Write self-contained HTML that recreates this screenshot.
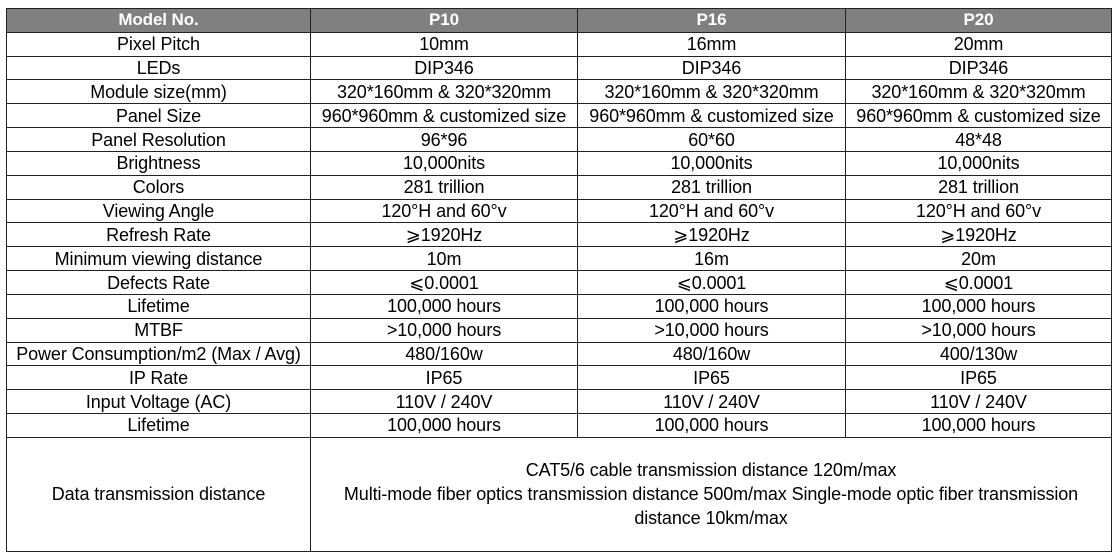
<!DOCTYPE html>
<html><head><meta charset="utf-8"><style>
body{margin:0;background:#fff;width:1117px;height:558px;overflow:hidden;font-family:"Liberation Sans",sans-serif;}
table{position:absolute;left:6px;top:8px;border-collapse:collapse;table-layout:fixed;width:1105px;}
tr{height:23.83px}
td{border:1.5px solid #222;text-align:center;font-size:18px;color:#000;padding:0;line-height:20px;white-space:nowrap;overflow:hidden;letter-spacing:-0.1px}
tr.h td{background:#808080;color:#fff;font-weight:bold;font-size:17px}
tr.big{height:114px}
tr.big td{line-height:24px;white-space:normal}
</style></head><body>
<table>
<col style="width:304px"><col style="width:267px"><col style="width:268px"><col style="width:266px">
<tr class="h"><td>Model No.</td><td>P10</td><td>P16</td><td>P20</td></tr>
<tr><td>Pixel Pitch</td><td>10mm</td><td>16mm</td><td>20mm</td></tr>
<tr><td>LEDs</td><td>DIP346</td><td>DIP346</td><td>DIP346</td></tr>
<tr><td>Module size(mm)</td><td>320*160mm &amp; 320*320mm</td><td>320*160mm &amp; 320*320mm</td><td>320*160mm &amp; 320*320mm</td></tr>
<tr><td>Panel Size</td><td>960*960mm &amp; customized size</td><td>960*960mm &amp; customized size</td><td>960*960mm &amp; customized size</td></tr>
<tr><td>Panel Resolution</td><td>96*96</td><td>60*60</td><td>48*48</td></tr>
<tr><td>Brightness</td><td>10,000nits</td><td>10,000nits</td><td>10,000nits</td></tr>
<tr><td>Colors</td><td>281 trillion</td><td>281 trillion</td><td>281 trillion</td></tr>
<tr><td>Viewing Angle</td><td>120°H and 60°v</td><td>120°H and 60°v</td><td>120°H and 60°v</td></tr>
<tr><td>Refresh Rate</td><td>⩾1920Hz</td><td>⩾1920Hz</td><td>⩾1920Hz</td></tr>
<tr><td>Minimum viewing distance</td><td>10m</td><td>16m</td><td>20m</td></tr>
<tr><td>Defects Rate</td><td>⩽0.0001</td><td>⩽0.0001</td><td>⩽0.0001</td></tr>
<tr><td>Lifetime</td><td>100,000 hours</td><td>100,000 hours</td><td>100,000 hours</td></tr>
<tr><td>MTBF</td><td>&gt;10,000 hours</td><td>&gt;10,000 hours</td><td>&gt;10,000 hours</td></tr>
<tr><td>Power Consumption/m2 (Max / Avg)</td><td>480/160w</td><td>480/160w</td><td>400/130w</td></tr>
<tr><td>IP Rate</td><td>IP65</td><td>IP65</td><td>IP65</td></tr>
<tr><td>Input Voltage (AC)</td><td>110V / 240V</td><td>110V / 240V</td><td>110V / 240V</td></tr>
<tr><td>Lifetime</td><td>100,000 hours</td><td>100,000 hours</td><td>100,000 hours</td></tr>
<tr class="big"><td>Data transmission distance</td><td colspan="3">CAT5/6 cable transmission distance 120m/max<br>Multi-mode fiber optics transmission distance 500m/max Single-mode optic fiber transmission<br>distance 10km/max</td></tr>
</table>
</body></html>
